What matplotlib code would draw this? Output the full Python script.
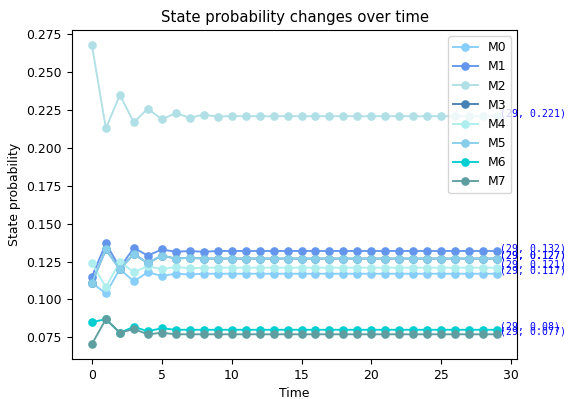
import matplotlib
matplotlib.use("Agg")
import matplotlib.pyplot as plt

time = list(range(30))
names = ["M0", "M1", "M2", "M3", "M4", "M5", "M6", "M7"]
colors = ["lightskyblue", "cornflowerblue", "powderblue", "steelblue",
          "paleturquoise", "skyblue", "darkturquoise", "cadetblue"]

M0 = [0.111, 0.104, 0.120, 0.112, 0.118, 0.1155, 0.117, 0.1165, 0.117, 0.117] + [0.117] * 20
M1 = [0.115, 0.137, 0.121, 0.134, 0.129, 0.133, 0.1315, 0.132, 0.1315, 0.132] + [0.132] * 20
M2 = [0.268, 0.213, 0.235, 0.217, 0.226, 0.219, 0.223, 0.220, 0.222, 0.2208, 0.2211, 0.221] + [0.221] * 18
M3 = [0.111, 0.133, 0.120, 0.130, 0.124, 0.129, 0.127, 0.1275, 0.127, 0.127] + [0.127] * 20
M4 = [0.124, 0.108, 0.125, 0.118, 0.122, 0.120, 0.1215, 0.1205, 0.121, 0.121] + [0.121] * 20
M5 = [0.111, 0.133, 0.120, 0.130, 0.124, 0.129, 0.127, 0.1275, 0.127, 0.127] + [0.127] * 20
M6 = [0.085, 0.087, 0.078, 0.082, 0.079, 0.081, 0.080, 0.080, 0.080, 0.080] + [0.080] * 20
M7 = [0.0705, 0.087, 0.078, 0.0805, 0.077, 0.078, 0.077, 0.077, 0.077, 0.077] + [0.077] * 20
series = [M0, M1, M2, M3, M4, M5, M6, M7]

fig = plt.figure(figsize=(5.73, 3.99), dpi=100)
ax = fig.add_axes([0.125, 0.100, 0.778, 0.8246])

for name, col, vals in zip(names, colors, series):
    ax.plot(time, vals, marker="o", color=col, label=name,
            linewidth=1.35, markersize=5.2)
    ax.annotate(f"({time[-1]}, {round(vals[-1], 3)})",
                xy=(time[-1], vals[-1]), xytext=(3, 0),
                textcoords="offset pixels", color="blue",
                fontsize=7.1, family="DejaVu Sans Mono",
                va="baseline", annotation_clip=False, zorder=4)

ax.set_title("State probability changes over time", fontsize=10.7)
ax.set_xlabel("Time", fontsize=8.9)
ax.set_ylabel("State probability", fontsize=8.9)
ax.tick_params(labelsize=8.9)
leg = ax.legend(loc="upper right", fontsize=8.9)
leg.set_zorder(5)

fig.savefig("out.png", dpi=100)
